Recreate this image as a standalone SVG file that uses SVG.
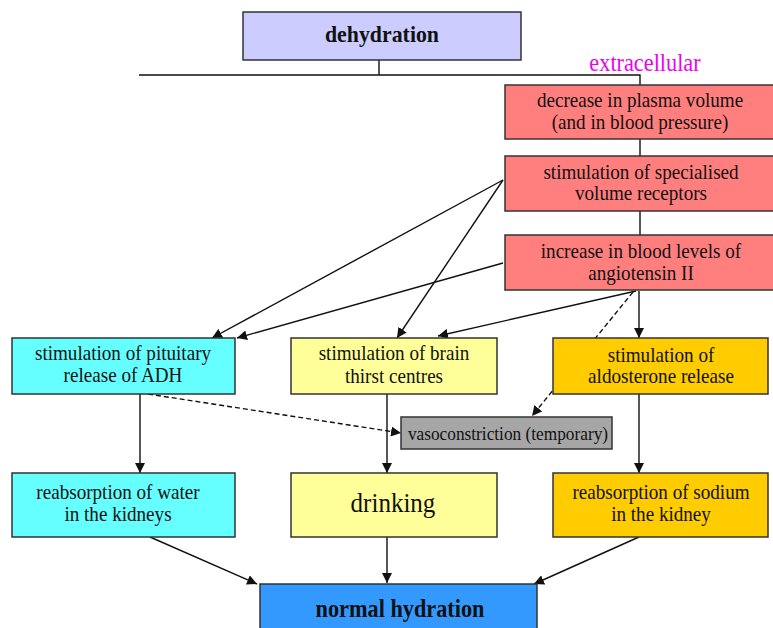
<svg xmlns="http://www.w3.org/2000/svg" width="773" height="628" viewBox="0 0 773 628">
<defs>
<marker id="ah" viewBox="0 0 10 10" refX="10" refY="5" markerWidth="10" markerHeight="10" markerUnits="userSpaceOnUse" orient="auto"><path d="M0,0 L10,5 L0,10 z" fill="#111"/></marker>
<style>
.box{stroke:#333;stroke-width:1.5}
.t{font-family:"Liberation Serif","Times New Roman",serif;font-size:21px;fill:#111;text-anchor:middle}
.b{font-weight:bold;font-size:24px}
.c{stroke:#111;stroke-width:1.4;fill:none}
.a{marker-end:url(#ah)}
.d{stroke-dasharray:5,3}
</style>
</defs>
<rect width="773" height="628" fill="#fff"/>
<g id="connectors">
<path class="c" d="M379,60 V75 M139,75 H640 V85"/>
<path class="c" d="M640,139 V156 M640,211 V235"/>
<path class="c a" d="M503,180 L212,338"/>
<path class="c a" d="M503,180 L397,338"/>
<path class="c a" d="M503,263 L237,338"/>
<path class="c a" d="M636,291 L438,336"/>
<path class="c a" d="M639,291 V338"/>
<path class="c a d" d="M633,292 L532,416"/>
<path class="c a d" d="M148,394 L401,433"/>
<path class="c a" d="M140,394 V473"/>
<path class="c a" d="M387,394 V473"/>
<path class="c a" d="M639,394 V473"/>
<path class="c a" d="M150,537 L257,584"/>
<path class="c a" d="M387,537 V583"/>
<path class="c a" d="M639,537 L534,584"/>
</g>
<g id="dehydration"><rect class="box" x="243" y="12" width="278" height="48" fill="#ccccff"/><g transform="translate(382,0) scale(0.91,1)"><text class="t b" x="0" y="42">dehydration</text></g></g>
<g id="extracellular"><g transform="translate(645,0) scale(0.91,1)"><text class="t" x="0" y="71" style="fill:#ee00ee;font-size:24.5px">extracellular</text></g></g>
<g id="plasma"><rect class="box" x="505" y="85" width="275" height="54" fill="#ff7f7f"/><g transform="translate(640,0) scale(0.91,1)"><text class="t" x="0" y="107">decrease in plasma volume</text><text class="t" x="0" y="129">(and in blood pressure)</text></g></g>
<g id="receptors"><rect class="box" x="505" y="156" width="275" height="55" fill="#ff7f7f"/><g transform="translate(641,0) scale(0.91,1)"><text class="t" x="0" y="179">stimulation of specialised</text><text class="t" x="0" y="200">volume receptors</text></g></g>
<g id="angiotensin"><rect class="box" x="505" y="235" width="275" height="55" fill="#ff7f7f"/><g transform="translate(641,0) scale(0.91,1)"><text class="t" x="0" y="258">increase in blood levels of</text><text class="t" x="0" y="280">angiotensin II</text></g></g>
<g id="pituitary"><rect class="box" x="12" y="338" width="223" height="56" fill="#66ffff"/><g transform="translate(123,0) scale(0.91,1)"><text class="t" x="0" y="360">stimulation of pituitary</text><text class="t" x="0" y="382">release of ADH</text></g></g>
<g id="thirst"><rect class="box" x="291" y="338" width="206" height="56" fill="#ffff99"/><g transform="translate(394,0) scale(0.91,1)"><text class="t" x="0" y="360">stimulation of brain</text><text class="t" x="0" y="383">thirst centres</text></g></g>
<g id="aldosterone"><rect class="box" x="553" y="338" width="215" height="56" fill="#ffcc00"/><g transform="translate(661,0) scale(0.91,1)"><text class="t" x="0" y="362">stimulation of</text><text class="t" x="0" y="383">aldosterone release</text></g></g>
<g id="vasoconstriction"><rect class="box" x="401" y="417" width="211" height="32" fill="#a6a6a6"/><g transform="translate(508,0) scale(0.91,1)"><text class="t" x="0" y="440" style="font-size:19px">vasoconstriction (temporary)</text></g></g>
<g id="water"><rect class="box" x="12" y="473" width="223" height="64" fill="#66ffff"/><g transform="translate(118,0) scale(0.91,1)"><text class="t" x="0" y="499">reabsorption of water</text><text class="t" x="0" y="521">in the kidneys</text></g></g>
<g id="drinking"><rect class="box" x="291" y="473" width="206" height="64" fill="#ffff99"/><g transform="translate(393,0) scale(0.91,1)"><text class="t" x="0" y="512" style="font-size:27.5px">drinking</text></g></g>
<g id="sodium"><rect class="box" x="553" y="473" width="215" height="64" fill="#ffcc00"/><g transform="translate(661,0) scale(0.91,1)"><text class="t" x="0" y="499">reabsorption of sodium</text><text class="t" x="0" y="521">in the kidney</text></g></g>
<g id="normal"><rect class="box" x="260" y="584" width="277" height="50" fill="#3399ff"/><g transform="translate(400,0) scale(0.91,1)"><text class="t b" x="0" y="617" style="font-size:24.5px">normal hydration</text></g></g>
</svg>
